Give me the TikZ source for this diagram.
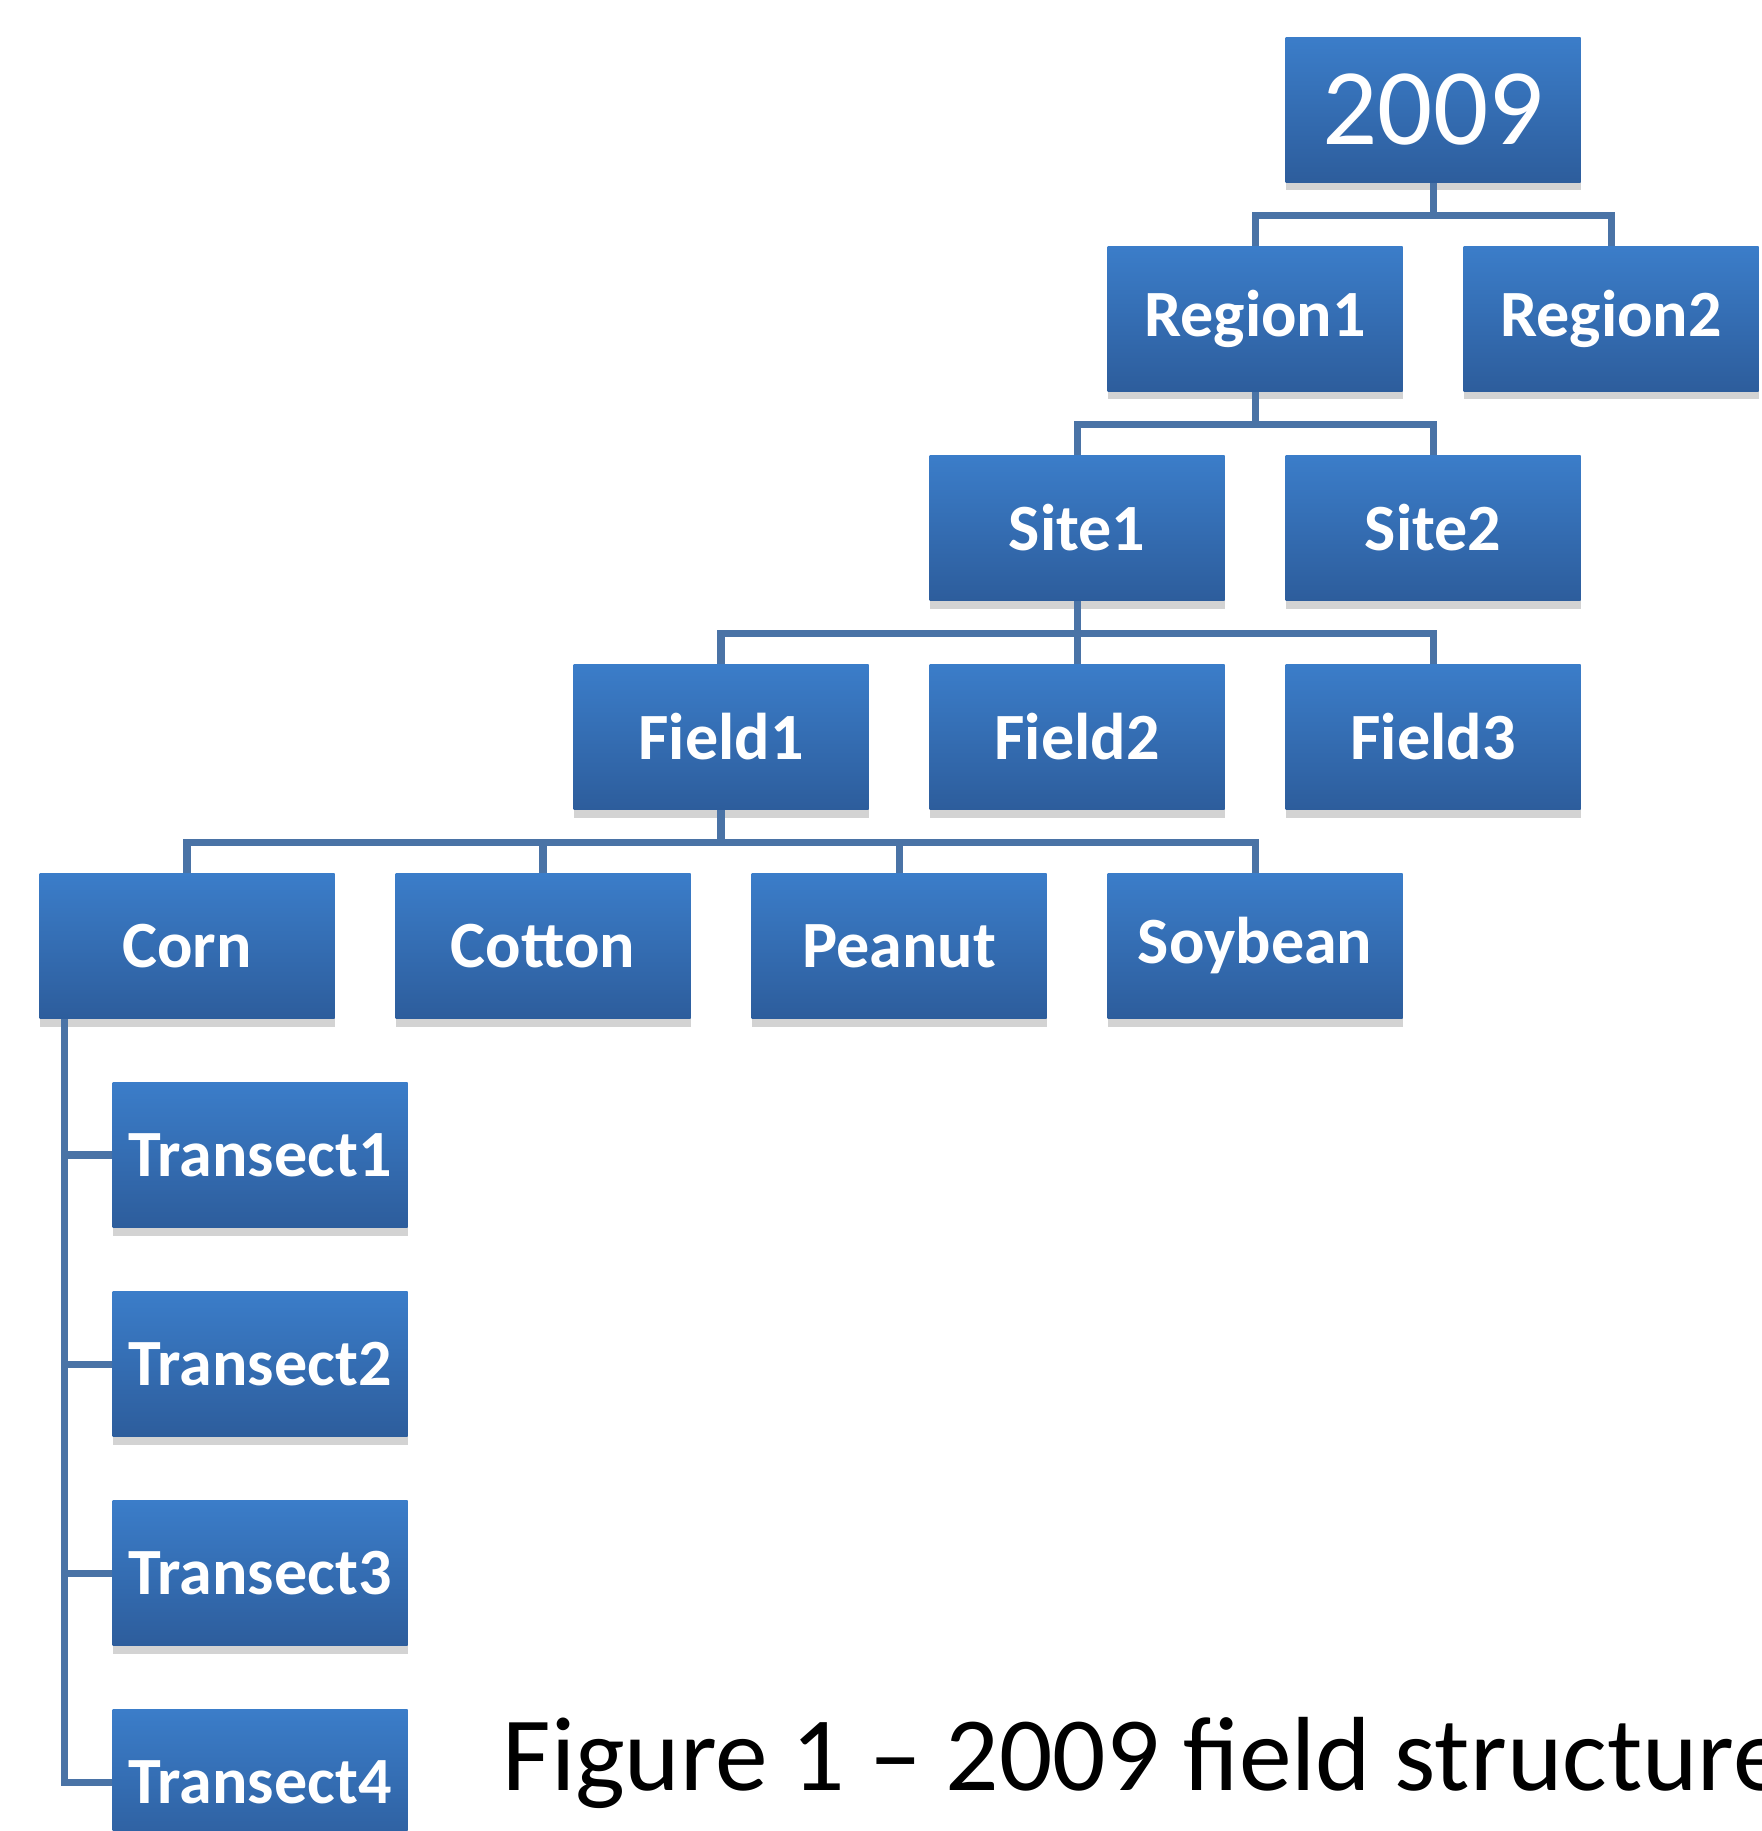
\documentclass[tikz,border=0pt]{standalone}
\usepackage{fontspec}
\setmainfont{Carlito}
\definecolor{BoxTop}{HTML}{3B7DC9}
\definecolor{BoxBot}{HTML}{2D5D9C}
\definecolor{LinkBlue}{HTML}{4A73A6}
\usetikzlibrary{shadows, positioning}
\tikzset{
  unit/.style={
    rectangle, minimum width=2.95cm, minimum height=1.45cm,
    inner sep=0pt, top color=BoxTop, bottom color=BoxBot,
    text=white, font=\fontsize{18.8}{22}\selectfont\bfseries,
    drop shadow={shadow xshift=0pt, shadow yshift=-0.08cm, opacity=0.35}
  },
  link/.style={draw=LinkBlue, line width=2pt},
}

\begin{document}
\begin{tikzpicture}

\useasboundingbox (0,0) rectangle (17.62,-18.31);
\clip (0,0) rectangle (17.62,-18.31);

% tree levels, 2.09cm apart; columns on a 1.78cm half-step grid

\node[unit, font=\fontsize{31}{36}\selectfont] at (14.33,-1.10) (year) {2009};

\node[unit] at (12.55,-3.19) (reg1) {Region1};
\node[unit] at (16.11,-3.19) (reg2) {Region2};

\node[unit] at (10.77,-5.28) (site1) {Site1};
\node[unit] at (14.33,-5.28) (site2) {Site2};

\node[unit] at (7.21,-7.37) (field1) {Field1};
\node[unit] at (10.77,-7.37) (field2) {Field2};
\node[unit] at (14.33,-7.37) (field3) {Field3};

\node[unit] at (1.87,-9.46) (corn) {Corn};
\node[unit] at (5.43,-9.46) (cotton) {Cotton};
\node[unit] at (8.99,-9.46) (peanut) {Peanut};
\node[unit] at (12.55,-9.46) (soybean) {Soybean};

\node[unit] at (2.60,-11.55) (tr1) {Transect1};
\node[unit] at (2.60,-13.64) (tr2) {Transect2};
\node[unit] at (2.60,-15.73) (tr3) {Transect3};
\node[unit] at (2.60,-17.82) (tr4) {Transect4};

% connectors
\draw[link] (year.south) -- ++(0,-0.32) -| (reg1.north);
\draw[link] (year.south) -- ++(0,-0.32) -| (reg2.north);

\draw[link] (reg1.south) -- ++(0,-0.32) -| (site1.north);
\draw[link] (reg1.south) -- ++(0,-0.32) -| (site2.north);

\draw[link] (site1.south) -- ++(0,-0.32) -| (field1.north);
\draw[link] (site1.south) -- ++(0,-0.32) -| (field2.north);
\draw[link] (site1.south) -- ++(0,-0.32) -| (field3.north);

\draw[link] (field1.south) -- ++(0,-0.32) -| (corn.north);
\draw[link] (field1.south) -- ++(0,-0.32) -| (cotton.north);
\draw[link] (field1.south) -- ++(0,-0.32) -| (peanut.north);
\draw[link] (field1.south) -- ++(0,-0.32) -| (soybean.north);

\draw[link] ([xshift=0.26cm]corn.south west) |- (tr1.west);
\draw[link] ([xshift=0.26cm]corn.south west) |- (tr2.west);
\draw[link] ([xshift=0.26cm]corn.south west) |- (tr3.west);
\draw[link] ([xshift=0.26cm]corn.south west) |- (tr4.west);

\node[anchor=base west, inner sep=0pt, font=\fontsize{30}{36}\selectfont] at (5.02,-17.90) (caption) {Figure 1 -- 2009 field structure};

\end{tikzpicture}
\end{document}
